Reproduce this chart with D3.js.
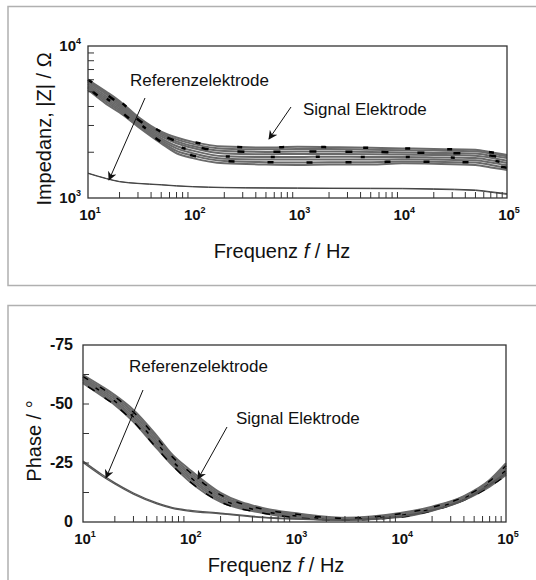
<!DOCTYPE html>
<html>
<head>
<meta charset="utf-8">
<script src="https://cdn.jsdelivr.net/npm/d3@7"></script>
<style>
  body { margin: 0; background: #fff; }
  svg text { font-family: "Liberation Sans", Arial, sans-serif; fill: #111; }
</style>
</head>
<body>
<script>
// frequencies (Hz)
const freqZ = [10, 15, 20, 30, 50, 70, 100, 200, 500, 1000, 2000, 5000, 10000, 20000, 50000, 70000, 100000];
const freqP = [10, 15, 20, 30, 50, 70, 100, 200, 500, 1000, 3000, 10000, 20000, 40000, 70000, 100000];

// |Z| in Ohm, signal electrodes (the band)
const zSignal = [
  [6000, 5000, 4350, 3420, 2730, 2500, 2340, 2180, 2150, 2170, 2160, 2140, 2120, 2100, 2080, 2000, 1920],
  [5900, 4900, 4250, 3350, 2670, 2430, 2270, 2110, 2090, 2100, 2100, 2080, 2060, 2050, 2030, 1960, 1880],
  [5800, 4800, 4150, 3290, 2610, 2360, 2200, 2040, 2010, 2020, 2020, 2010, 1990, 1980, 1960, 1900, 1830],
  [5650, 4650, 4050, 3200, 2540, 2290, 2130, 1960, 1940, 1950, 1950, 1940, 1930, 1920, 1900, 1840, 1760],
  [5500, 4520, 3950, 3130, 2470, 2200, 2050, 1880, 1860, 1860, 1870, 1860, 1860, 1850, 1830, 1770, 1700],
  [5400, 4400, 3850, 3070, 2400, 2120, 1970, 1810, 1790, 1790, 1790, 1790, 1800, 1790, 1770, 1710, 1640],
  [5300, 4280, 3750, 3000, 2340, 2040, 1900, 1750, 1720, 1710, 1720, 1720, 1740, 1730, 1710, 1650, 1580],
  [5150, 4150, 3650, 2950, 2290, 1970, 1830, 1690, 1660, 1650, 1660, 1660, 1690, 1680, 1650, 1590, 1530]
];
// |Z| reference electrode
const zRef = [
  [1460, 1345, 1285, 1250, 1225, 1205, 1190, 1175, 1168, 1165, 1162, 1160, 1158, 1150, 1130, 1100, 1070],
  [1450, 1338, 1278, 1244, 1218, 1198, 1184, 1168, 1160, 1158, 1155, 1152, 1150, 1140, 1120, 1090, 1056]
];

// phase in degrees, signal electrodes
const pSignal = [
  [-62.3, -57.5, -53.8, -47.5, -36.5, -28.5, -22.5, -12.3, -5.9, -3.8, -1.8, -3.8, -6.5, -11.0, -17.8, -24.9],
  [-61.6, -56.7, -53.0, -46.5, -35.5, -27.6, -21.5, -11.5, -5.5, -3.4, -1.6, -3.5, -6.2, -10.7, -17.3, -23.9],
  [-60.9, -55.9, -52.1, -45.5, -34.4, -26.7, -20.5, -10.7, -5.0, -3.0, -1.4, -3.2, -5.8, -10.3, -16.8, -22.9],
  [-60.2, -55.1, -51.2, -44.5, -33.3, -25.8, -19.5, -9.9, -4.6, -2.6, -1.2, -2.8, -5.5, -10.0, -16.2, -21.9],
  [-59.5, -54.3, -50.4, -43.5, -32.2, -24.9, -18.5, -9.2, -4.2, -2.2, -1.0, -2.4, -5.1, -9.6, -15.6, -20.9],
  [-58.8, -53.5, -49.6, -42.5, -31.2, -24.0, -17.5, -8.5, -3.8, -1.9, -0.8, -2.1, -4.8, -9.3, -15.0, -19.9]
];
// phase reference electrode
const pRef = [
  [-25.8, -20.2, -16.6, -12.3, -8.1, -6.1, -5.0, -3.8, -2.1, -1.4, -0.9, -2.4, -5.0, -9.5, -16.0, -21.0],
  [-25.2, -19.6, -16.1, -11.8, -7.7, -5.8, -4.6, -3.5, -1.9, -1.2, -0.8, -2.2, -4.8, -9.2, -15.5, -20.3]
];

const xDecades = [1, 2, 3, 4, 5];
const phaseTicks = [0, -25, -50, -75];

const width = 536, height = 580;
const svg = d3.select('body').append('svg').attr('width', width).attr('height', height);

svg.append('defs').append('marker')
  .attr('id', 'arrow').attr('viewBox', '0 0 10 10')
  .attr('refX', 9).attr('refY', 5)
  .attr('markerWidth', 9).attr('markerHeight', 9)
  .attr('orient', 'auto-start-reverse').attr('markerUnits', 'userSpaceOnUse')
  .append('path').attr('d', 'M0,0 L10,5 L0,10 L3,5 Z').attr('fill', '#111');

// panel frames
svg.append('rect').attr('x', 8).attr('y', 6.5).attr('width', 540).attr('height', 279)
  .attr('fill', 'none').attr('stroke', '#b0b0b0').attr('stroke-width', 1.5);
svg.append('rect').attr('x', 8).attr('y', 305.5).attr('width', 540).attr('height', 300)
  .attr('fill', 'none').attr('stroke', '#b0b0b0').attr('stroke-width', 1.5);

// minor tick values for a log axis
function logMinor(lo, hi) {
  const out = [];
  for (let d = lo; d < hi; d *= 10)
    for (let k = 2; k <= 9; k++) out.push(d * k);
  return out;
}

function powLabel(sel, exp) {
  sel.append('tspan').text('10');
  sel.append('tspan').attr('dy', -7).attr('font-size', 9).text(exp);
}

function drawFrame(g, x, y, left, right, top, bottom) {
  g.append('rect').attr('x', left).attr('y', top)
    .attr('width', right - left).attr('height', bottom - top)
    .attr('fill', 'none').attr('stroke', '#333').attr('stroke-width', 1.3);
  // inward ticks on the x axis
  g.append('g').selectAll('line').data(logMinor(10, 100000)).join('line')
    .attr('x1', d => x(d)).attr('x2', d => x(d))
    .attr('y1', bottom).attr('y2', bottom - 6)
    .attr('stroke', '#333').attr('stroke-width', 1);
  g.append('g').selectAll('text').data(xDecades).join('text')
    .attr('x', d => x(Math.pow(10, d)) + 2)
    .attr('y', bottom + 22)
    .attr('text-anchor', 'middle').attr('font-size', 15).attr('font-weight', 'bold')
    .each(function(d) { powLabel(d3.select(this), d); });
}

function drawCurves(g, x, y, freqs, series, color, w) {
  const line = d3.line().x((d, i) => x(freqs[i])).y(d => y(d)).curve(d3.curveMonotoneX);
  g.append('g').selectAll('path').data(series).join('path')
    .attr('d', line).attr('fill', 'none')
    .attr('stroke', color).attr('stroke-width', w);
  return line;
}

function drawArrow(g, x1, y1, x2, y2) {
  g.append('line').attr('x1', x1).attr('y1', y1).attr('x2', x2).attr('y2', y2)
    .attr('stroke', '#111').attr('stroke-width', 1).attr('marker-end', 'url(#arrow)');
}

// ---------- impedance panel ----------
const g1 = svg.append('g');
const L1 = 88, R1 = 507, T1 = 46, B1 = 198;
const x1 = d3.scaleLog().domain([10, 100000]).range([L1, R1]);
const y1 = d3.scaleLog().domain([1000, 10000]).range([B1, T1]);

const zLine = drawCurves(g1, x1, y1, freqZ, zSignal, '#6a6a6a', 2);
// dark marker blocks along the band
g1.append('g').selectAll('path').data(zSignal.filter((d, i) => i % 2 === 0)).join('path')
  .attr('d', zLine).attr('fill', 'none').attr('stroke', '#000')
  .attr('stroke-width', 2.5).attr('stroke-dasharray', (d, i) => ['5 37', '7 29', '4 41', '6 33'][i])
  .attr('stroke-dashoffset', (d, i) => i * 11);
drawCurves(g1, x1, y1, freqZ, zRef, '#444', 1);

drawFrame(g1, x1, y1, L1, R1, T1, B1);
g1.append('g').selectAll('line').data(logMinor(1000, 10000)).join('line')
  .attr('x1', L1).attr('x2', L1 + 6)
  .attr('y1', d => y1(d)).attr('y2', d => y1(d))
  .attr('stroke', '#333').attr('stroke-width', 1);
g1.append('g').selectAll('text').data([3, 4]).join('text')
  .attr('x', L1 - 7).attr('y', d => y1(Math.pow(10, d)) + 5)
  .attr('text-anchor', 'end').attr('font-size', 15).attr('font-weight', 'bold')
  .each(function(d) { powLabel(d3.select(this), d); });

g1.append('text').attr('transform', 'translate(51,129) rotate(-90)')
  .attr('text-anchor', 'middle').attr('font-size', 20).text('Impedanz, |Z| / Ω');
const xl1 = g1.append('text').attr('x', 282).attr('y', 258)
  .attr('text-anchor', 'middle').attr('font-size', 20);
xl1.append('tspan').text('Frequenz ');
xl1.append('tspan').attr('font-style', 'italic').text('f');
xl1.append('tspan').text(' / Hz');

g1.append('text').attr('x', 130).attr('y', 86).attr('font-size', 17).text('Referenzelektrode');
g1.append('text').attr('x', 303).attr('y', 115).attr('font-size', 17).text('Signal Elektrode');
drawArrow(g1, 145, 98, 109, 180);
drawArrow(g1, 291, 107, 269, 139);

// ---------- phase panel ----------
const g2 = svg.append('g');
const L2 = 83, R2 = 506, T2 = 345, B2 = 522;
const x2 = d3.scaleLog().domain([10, 100000]).range([L2, R2]);
const y2 = d3.scaleLinear().domain([0, -75]).range([B2, T2]);

const pLine = drawCurves(g2, x2, y2, freqP, pSignal, '#6a6a6a', 2);
g2.append('g').selectAll('path').data(pSignal.filter((d, i) => i % 2 === 1)).join('path')
  .attr('d', pLine).attr('fill', 'none').attr('stroke', '#000')
  .attr('stroke-width', 1.5).attr('stroke-dasharray', (d, i) => ['6 14', '4 18', '8 12'][i])
  .attr('stroke-dashoffset', (d, i) => i * 7);
drawCurves(g2, x2, y2, freqP, pRef, '#555', 1.3);

drawFrame(g2, x2, y2, L2, R2, T2, B2);
g2.append('g').selectAll('line').data([-12.5, -25, -37.5, -50, -62.5]).join('line')
  .attr('x1', L2).attr('x2', L2 + 6)
  .attr('y1', d => y2(d)).attr('y2', d => y2(d))
  .attr('stroke', '#333').attr('stroke-width', 1);
g2.append('g').selectAll('text').data(phaseTicks).join('text')
  .attr('x', L2 - 10).attr('y', d => y2(d) + 5)
  .attr('text-anchor', 'end').attr('font-size', 16).attr('font-weight', 'bold')
  .text(d => d);

g2.append('text').attr('transform', 'translate(41,441) rotate(-90)')
  .attr('text-anchor', 'middle').attr('font-size', 20).text('Phase / °');
const xl2 = g2.append('text').attr('x', 276).attr('y', 572)
  .attr('text-anchor', 'middle').attr('font-size', 20);
xl2.append('tspan').text('Frequenz ');
xl2.append('tspan').attr('font-style', 'italic').text('f');
xl2.append('tspan').text(' / Hz');

g2.append('text').attr('x', 129).attr('y', 372).attr('font-size', 17).text('Referenzelektrode');
g2.append('text').attr('x', 236).attr('y', 424).attr('font-size', 17).text('Signal Elektrode');
drawArrow(g2, 143, 390, 106, 478);
drawArrow(g2, 227, 427, 198, 479);
</script>
</body>
</html>
